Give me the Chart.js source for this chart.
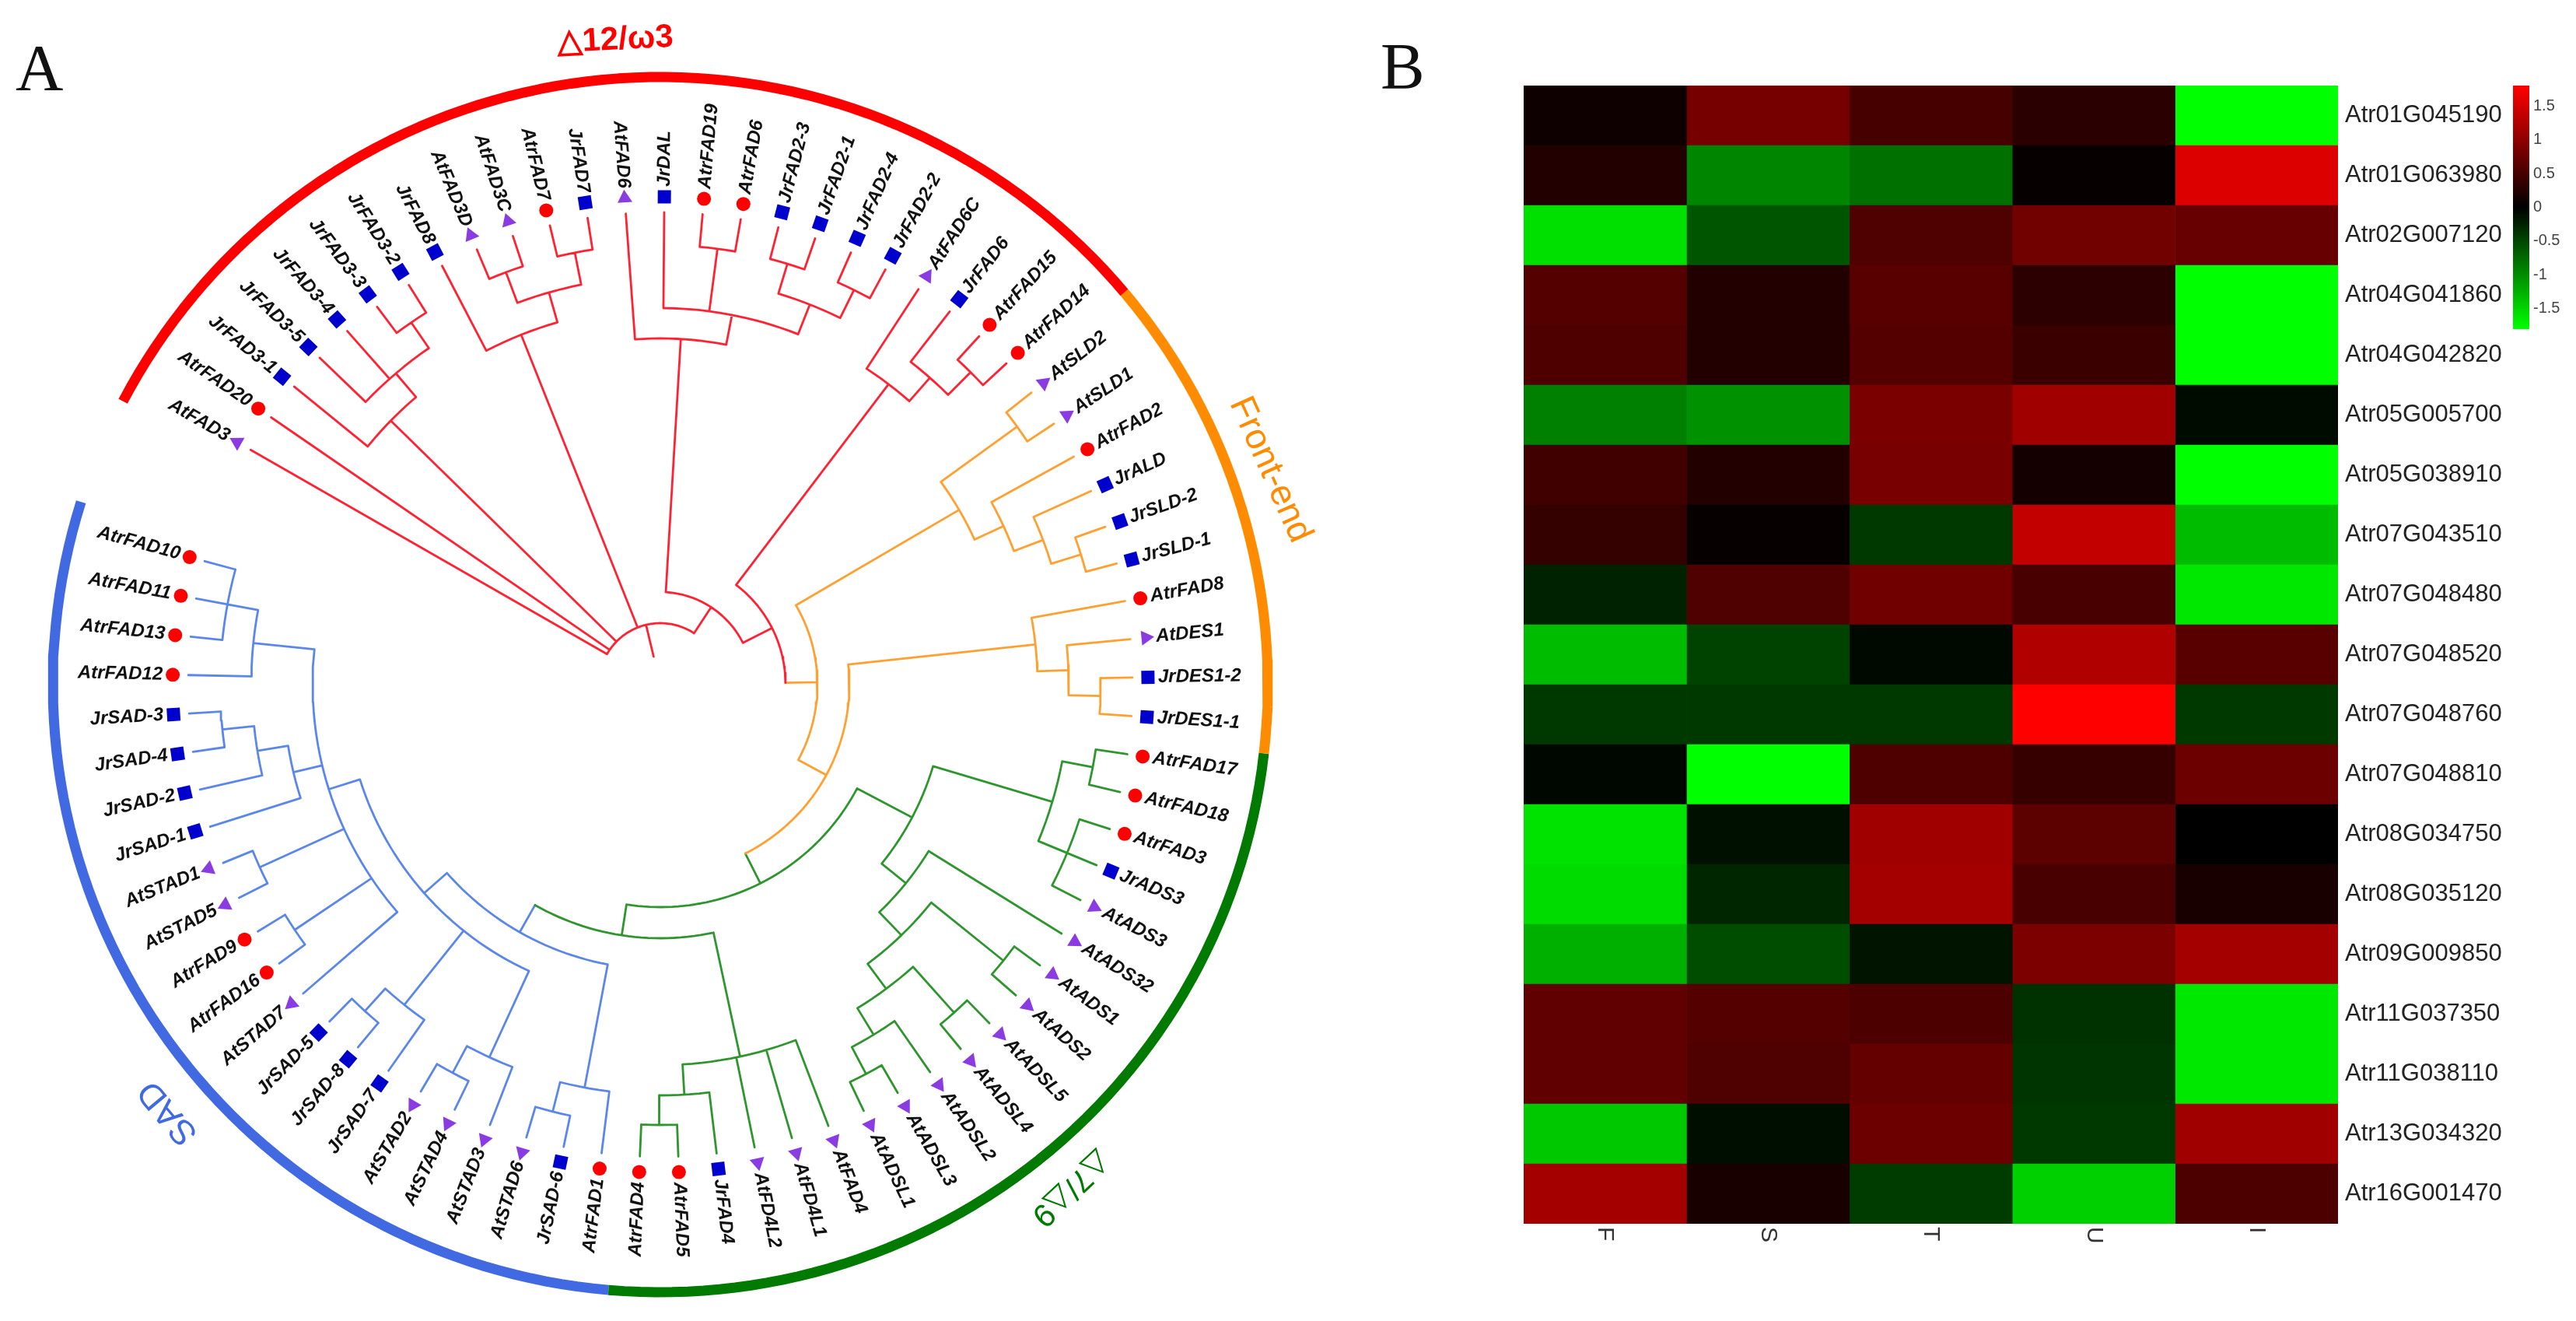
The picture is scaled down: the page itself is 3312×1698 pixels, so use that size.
<!DOCTYPE html>
<html>
<head>
<meta charset="utf-8">
<title>FAD tree and heatmap</title>
<script src="https://cdn.jsdelivr.net/npm/chart.js@4"></script>
<style>
  html, body { margin: 0; padding: 0; background: #fff; }
  body { position: relative; width: 3312px; height: 1698px; overflow: hidden; }
  canvas { position: absolute; filter: blur(0.7px); }
  .panel { position: absolute; font: 85px/85px "Liberation Serif"; color: #111; }
</style>
</head>
<body>
<div class="panel" style="left:20px;top:45px">A</div>
<div class="panel" style="left:1775px;top:43px">B</div>
<canvas id="treeChart" width="1700" height="1698" style="left:0;top:0"></canvas>
<canvas id="heatChart" width="1275" height="1520" style="left:1950px;top:100px"></canvas>
<canvas id="barChart" width="87" height="333" style="left:3225px;top:100px"></canvas>
<script>
// leaves clockwise, starting from AtFAD3
const leafNames = [
  "AtFAD3", "AtrFAD20", "JrFAD3-1", "JrFAD3-5", "JrFAD3-4", "JrFAD3-3", "JrFAD3-2", "JrFAD8",
  "AtFAD3D", "AtFAD3C", "AtrFAD7", "JrFAD7", "AtFAD6", "JrDAL", "AtrFAD19", "AtrFAD6",
  "JrFAD2-3", "JrFAD2-1", "JrFAD2-4", "JrFAD2-2", "AtFAD6C", "JrFAD6", "AtrFAD15", "AtrFAD14",
  "AtSLD2", "AtSLD1", "AtrFAD2", "JrALD", "JrSLD-2", "JrSLD-1", "AtrFAD8", "AtDES1", "JrDES1-2", "JrDES1-1",
  "AtrFAD17", "AtrFAD18", "AtrFAD3", "JrADS3", "AtADS3", "AtADS32", "AtADS1", "AtADS2", "AtADSL5", "AtADSL4",
  "AtADSL2", "AtADSL3", "AtADSL1", "AtFAD4", "AtFD4L1", "AtFD4L2", "JrFAD4", "AtrFAD5", "AtrFAD4",
  "AtrFAD1", "JrSAD-6", "AtSTAD6", "AtSTAD3", "AtSTAD4", "AtSTAD2", "JrSAD-7", "JrSAD-8", "JrSAD-5",
  "AtSTAD7", "AtrFAD16", "AtrFAD9", "AtSTAD5", "AtSTAD1", "JrSAD-1", "JrSAD-2", "JrSAD-4", "JrSAD-3",
  "AtrFAD12", "AtrFAD13", "AtrFAD11", "AtrFAD10"
];

// [depth, clade, ...children], a number is a leaf index
const treeRoot = [79, "r", 0, 1,
  [485, "r", 2, [525, "r", 3, 4, [565, "r", 5, 6]]],
  [484, "r", 7, [524, "r", [566, "r", 8, 9], [566, "r", 10, 11]]],
  [119, "r",
    [445, "r", 12, [484, "r", 13, [565, "r", 14, 15], [525, "r", [565, "r", 16, 17], [565, "r", 18, 19]]]],
    [161, "r",
      [485, "r", 20, [525, "r", 21, [566, "r", 22, 23]]],
      [202, "o",
        [445, "o", [566, "o", 24, 25], [486, "o", 26, [526, "o", 27, [566, "o", 28, 29]]]],
        [243, "o",
          [485, "o", 30, [525, "o", 31, [566, "o", 32, 33]]],
          [286, "g",
            [366, "g",
              [526, "g", [566, "g", 34, 35], [566, "g", 36, 38], 37],
              [406, "g", 39, [447, "g", [566, "g", 40, 41],
                [487, "g", [566, "g", 42, 43], [527, "g", 44, [566, "g", 45, 46]]]]]
            ],
            [326, "g",
              [489, "g", 47, 48, 49, [528, "g", 50, [566, "g", 51, 52]]],
              [366, "b",
                [405, "b",
                  [447, "b", 62, [566, "b", 63, 64], [566, "b", 65, 66],
                    [485, "b", 67, [525, "b", 68, [566, "b", 69, 70]]],
                    [526, "b", 71, 73, [566, "b", 72, 74]]],
                  [527, "b", 59, [566, "b", 60, 61]],
                  [527, "b", 56, [566, "b", 57, 58]]
                ],
                [527, "b", 53, [566, "b", 54, 55]]
              ]
            ]
          ]
        ]
      ]
    ]
  ]
];

const circleLeaves = [1, 10, 14, 15, 22, 23, 26, 30, 34, 35, 36, 51, 52, 53, 63, 64, 71, 72, 73, 74];
const squareLeaves = [2, 3, 4, 5, 6, 7, 11, 13, 16, 17, 18, 19, 21, 27, 28, 29, 32, 33, 37, 50, 54, 59, 60, 61, 67, 68, 69, 70];
const triangleLeaves = [0, 8, 9, 12, 20, 24, 25, 31, 38, 39, 40, 41, 42, 43, 44, 45, 46, 47, 48, 49, 55, 56, 57, 58, 62, 65, 66];

const ringAngles = [-62.2, 49.8, 96.5, 184.9, 287.5];
const ringClades = ["r", "o", "g", "b"];
const cladeLabels = ["△12/ω3", "Front-end", "△7/△9", "SAD"];

const genes = [
  "Atr01G045190", "Atr01G063980", "Atr02G007120", "Atr04G041860", "Atr04G042820", "Atr05G005700", "Atr05G038910",
  "Atr07G043510", "Atr07G048480", "Atr07G048520", "Atr07G048760", "Atr07G048810", "Atr08G034750", "Atr08G035120",
  "Atr09G009850", "Atr11G037350", "Atr11G038110", "Atr13G034320", "Atr16G001470"
];
const columns = ["F", "S", "T", "U", "I"];
const valuesF = [0.1, 0.25, -1.58, 0.6, 0.55, -0.9, 0.45, 0.37, -0.24, -1.33, -0.4, -0.04, -1.6, -1.55, -1.24, 0.68, 0.68, -1.41, 1.16];
const valuesS = [0.83, -0.94, -0.6, 0.24, 0.24, -1.02, 0.24, 0.04, 0.56, -0.47, -0.4, -1.8, -0.11, -0.27, -0.54, 0.6, 0.56, -0.1, 0.17];
const valuesT = [0.5, -0.8, 0.56, 0.62, 0.6, 0.86, 0.85, -0.4, 0.79, -0.06, -0.4, 0.55, 1.13, 1.16, -0.14, 0.54, 0.71, 0.76, -0.42];
const valuesU = [0.3, 0.05, 0.8, 0.31, 0.41, 1.13, 0.15, 1.38, 0.51, 1.24, 1.8, 0.38, 0.65, 0.51, 0.88, -0.35, -0.37, -0.4, -1.47];
const valuesI = [-1.8, 1.55, 0.73, -1.8, -1.8, -0.08, -1.8, -1.33, -1.64, 0.62, -0.4, 0.76, 0, 0.17, 1.16, -1.64, -1.64, 1.13, 0.54];
const heatColumns = [valuesF, valuesS, valuesT, valuesU, valuesI];
const colorTicks = [-1.5, -1, -0.5, 0, 0.5, 1, 1.5];
const colorMax = 1.8;

const lineColors = { r: "#ff2233", o: "#ffa030", g: "#2f962f", b: "#5b86ea" };
const ringColors = { r: "#ff0000", o: "#ff8c00", g: "#007a00", b: "#4169e1" };
const firstLeaf = -60.2;
const leafStep = 4.667;
const tipRadius = 607;
const markerRadius = 627;
const labelRadius = 640;
const ringRadius = 781;

function polar(r, deg) {
  let a = (deg * Math.PI) / 180;
  return { x: r * Math.sin(a), y: r * Math.cos(a) };
}

function leafAngle(i) {
  return firstLeaf + leafStep * i;
}

function nodeAngle(node) {
  if (typeof node == "number") return leafAngle(node);
  let angles = node.slice(2).map(nodeAngle);
  return (Math.min(...angles) + Math.max(...angles)) / 2;
}

function addArc(points, r, from, to) {
  let steps = Math.max(1, Math.ceil(Math.abs(to - from) / 1.5));
  for (let s = 0; s <= steps; s++) {
    points.push(polar(r, from + ((to - from) * s) / steps));
  }
  points.push({ x: null, y: null });
}

function addStem(points, r1, r2, deg) {
  points.push(polar(r1, deg), polar(r2, deg), { x: null, y: null });
}

const treeLines = { r: [], o: [], g: [], b: [] };

function addBranches(node) {
  let r = node[0];
  let clade = node[1];
  let kids = node.slice(2);
  let angles = kids.map(nodeAngle);
  addArc(treeLines[clade], r, Math.min(...angles), Math.max(...angles));
  kids.forEach(function (kid, k) {
    if (typeof kid == "number") {
      addStem(treeLines[clade], r, tipRadius, angles[k]);
    } else {
      addStem(treeLines[kid[1]], r, kid[0], angles[k]);
      addBranches(kid);
    }
  });
}

addBranches(treeRoot);
addStem(treeLines.r, 37, treeRoot[0], nodeAngle(treeRoot));

function lineDataset(points, color, width, cap) {
  return {
    data: points,
    showLine: true,
    pointRadius: 0,
    borderColor: color,
    borderWidth: width,
    borderCapStyle: cap,
    borderJoinStyle: "round",
    tension: 0,
  };
}

function markerDataset(leaves, style, radius, color) {
  return {
    data: leaves.map((i) => polar(markerRadius, leafAngle(i))),
    pointStyle: style,
    pointRadius: radius,
    pointBackgroundColor: color,
    pointBorderWidth: 0,
    pointRotation: leaves.map(leafAngle),
  };
}

let treeDatasets = [];
for (let clade in treeLines) {
  treeDatasets.push(lineDataset(treeLines[clade], lineColors[clade], 2.8, "round"));
}
ringClades.forEach(function (clade, i) {
  let points = [];
  addArc(points, ringRadius, ringAngles[i], ringAngles[i + 1]);
  treeDatasets.push(lineDataset(points, ringColors[clade], 13, "butt"));
});
treeDatasets.push(markerDataset(circleLeaves, "circle", 9, "#ff0000"));
treeDatasets.push(markerDataset(squareLeaves, "rect", 12, "#0000cd"));
treeDatasets.push(markerDataset(triangleLeaves, "triangle", 11, "#8a3ce2"));

function drawRotated(ctx, text, px, py, rotation, align) {
  ctx.save();
  ctx.translate(px, py);
  ctx.rotate((rotation * Math.PI) / 180);
  ctx.textAlign = align;
  ctx.textBaseline = "middle";
  ctx.fillText(text, 0, 0);
  ctx.restore();
}

const treeText = {
  id: "treeText",
  afterDatasetsDraw(chart) {
    let ctx = chart.ctx;
    let sx = chart.scales.x;
    let sy = chart.scales.y;
    ctx.fillStyle = "#111";
    ctx.font = 'italic bold 24px "Liberation Sans"';
    leafNames.forEach(function (name, i) {
      let deg = leafAngle(i);
      let p = polar(labelRadius, deg);
      let right = deg >= 0 && deg < 180;
      drawRotated(ctx, name, sx.getPixelForValue(p.x), sy.getPixelForValue(p.y), right ? deg - 90 : deg + 90, right ? "left" : "right");
    });

    // clade names outside the ring
    let spots = [[830, -4, -3], [831, 70.6, 66], [835, 140.8, 137], [838, 229, 230]];
    let fonts = ['bold 42px "Liberation Sans"', '46px "Liberation Sans"', '41px "Liberation Sans"', '45px "Liberation Sans"'];
    cladeLabels.forEach(function (label, i) {
      let p = polar(spots[i][0], spots[i][1]);
      ctx.font = fonts[i];
      ctx.fillStyle = ringColors[ringClades[i]];
      drawRotated(ctx, label, sx.getPixelForValue(p.x), sy.getPixelForValue(p.y), spots[i][2], "center");
    });
  },
};

new Chart(document.getElementById("treeChart"), {
  type: "scatter",
  data: { datasets: treeDatasets },
  options: {
    responsive: false,
    animation: false,
    devicePixelRatio: 1,
    layout: { padding: 0, autoPadding: false },
    plugins: { legend: { display: false }, tooltip: { enabled: false } },
    scales: {
      x: { display: false, min: -849, max: 851 },
      y: { display: false, min: -818, max: 880 },
    },
  },
  plugins: [treeText],
});

function heatColor(v) {
  let level = Math.round((Math.min(Math.abs(v), colorMax) / colorMax) * 255);
  return v >= 0 ? `rgb(${level},0,0)` : `rgb(0,${level},0)`;
}

const columnText = {
  id: "columnText",
  afterDatasetsDraw(chart) {
    let ctx = chart.ctx;
    ctx.fillStyle = "#333";
    ctx.font = '30px "Liberation Sans"';
    columns.forEach(function (name, j) {
      drawRotated(ctx, name, chart.scales.x.getPixelForValue(j + 0.5), chart.chartArea.bottom + 4, 90, "left");
    });
  },
};

new Chart(document.getElementById("heatChart"), {
  type: "bar",
  data: {
    labels: genes,
    datasets: heatColumns.map((values) => ({
      data: genes.map(() => 1),
      backgroundColor: values.map(heatColor),
      borderWidth: 0,
      barPercentage: 1,
      categoryPercentage: 1,
    })),
  },
  options: {
    indexAxis: "y",
    responsive: false,
    animation: false,
    devicePixelRatio: 1,
    layout: { padding: { left: 9, top: 10, bottom: 47, right: 0 }, autoPadding: false },
    plugins: { legend: { display: false }, tooltip: { enabled: false } },
    scales: {
      x: { display: false, stacked: true, min: 0, max: columns.length },
      y: {
        stacked: true,
        position: "right",
        grid: { display: false, drawTicks: false },
        border: { display: false },
        ticks: { color: "#222", padding: 9, autoSkip: false, font: { family: "Liberation Sans", size: 31 } },
        afterFit(scale) {
          scale.width = 219;
          scale.paddingTop = 0;
          scale.paddingBottom = 0;
        },
      },
    },
  },
  plugins: [columnText],
});

new Chart(document.getElementById("barChart"), {
  type: "bar",
  data: {
    labels: [""],
    datasets: [
      {
        data: [[-colorMax, colorMax]],
        barPercentage: 1,
        categoryPercentage: 1,
        borderWidth: 0,
        backgroundColor(context) {
          let area = context.chart.chartArea;
          if (!area) return "#000";
          let gradient = context.chart.ctx.createLinearGradient(0, area.bottom, 0, area.top);
          gradient.addColorStop(0, "#00ff00");
          gradient.addColorStop(0.5, "#000000");
          gradient.addColorStop(1, "#ff0000");
          return gradient;
        },
      },
    ],
  },
  options: {
    responsive: false,
    animation: false,
    devicePixelRatio: 1,
    layout: { padding: { left: 6, top: 10, bottom: 10, right: 0 }, autoPadding: false },
    plugins: { legend: { display: false }, tooltip: { enabled: false } },
    scales: {
      x: { display: false },
      y: {
        position: "right",
        min: -colorMax,
        max: colorMax,
        grid: { display: false, drawTicks: false },
        border: { display: false },
        afterBuildTicks(scale) {
          scale.ticks = colorTicks.map((v) => ({ value: v }));
        },
        ticks: {
          color: "#444",
          padding: 5,
          font: { family: "Liberation Sans", size: 20 },
          callback(value) {
            return String(value);
          },
        },
        afterFit(scale) {
          scale.width = 60;
          scale.paddingTop = 0;
          scale.paddingBottom = 0;
        },
      },
    },
  },
});
</script>
</body>
</html>
